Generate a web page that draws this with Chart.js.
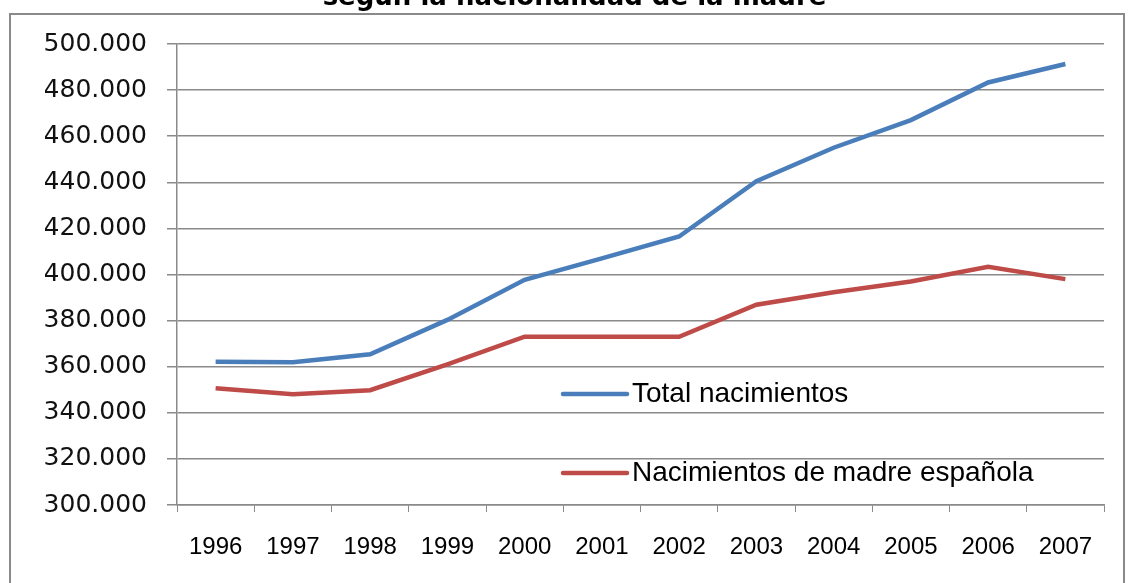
<!DOCTYPE html>
<html>
<head>
<meta charset="utf-8">
<script src="https://cdn.jsdelivr.net/npm/chart.js@4.4.1/dist/chart.umd.min.js"></script>
<style>
  html, body { margin: 0; padding: 0; background: #fff; overflow: hidden; }
  #wrap { position: absolute; left: 0; top: -15px; width: 1129px; height: 598px; }
  #marco { position: absolute; left: 9px; top: 13px; width: 1116px; height: 640px;
           border: 2px solid #8a8a8a; box-sizing: border-box; pointer-events: none; }
</style>
</head>
<body>
<div id="wrap"><canvas id="myChart" width="1129" height="598"></canvas></div>
<div id="marco"></div>
<script>
var titulo = "según la nacionalidad de la madre";
var anios = ["1996", "1997", "1998", "1999", "2000", "2001", "2002", "2003", "2004", "2005", "2006", "2007"];
var totalNacimientos = [362200, 361900, 365400, 380300, 397700, 407000, 416500, 440500, 455000, 467000, 483300, 491300];
var madreEspanola = [350600, 348000, 349800, 361000, 373000, 373000, 373000, 386900, 392300, 397000, 403300, 398000];
var nombres = ["Total nacimientos", "Nacimientos de madre española"];
var colores = ["#4a7ebb", "#be4b48"];

function puntos(v) {
    return v.toString().replace(/\B(?=(\d{3})+(?!\d))/g, ".");
}

// leyenda dentro del area del grafico, como en el original
var leyendaDentro = {
    id: "leyendaDentro",
    afterDatasetsDraw: function(chart) {
        var ctx = chart.ctx;
        var a = chart.chartArea;
        var filas = [a.top + 350, a.top + 429];
        ctx.save();
        chart.data.datasets.forEach(function(ds, i) {
            var y = filas[i];
            ctx.strokeStyle = ds.borderColor;
            ctx.lineWidth = 4.5;
            ctx.lineCap = "round";
            ctx.beginPath();
            ctx.moveTo(a.left + 386, y);
            ctx.lineTo(a.left + 450, y);
            ctx.stroke();
            ctx.fillStyle = "#000";
            ctx.font = "28px 'Liberation Sans', Arial, sans-serif";
            ctx.textBaseline = "middle";
            ctx.textAlign = "left";
            ctx.fillText(ds.label, a.left + 455, y);
        });
        ctx.restore();
    }
};

new Chart("myChart", {
    type: "line",
    data: {
        labels: anios,
        datasets: [{
            label: nombres[0],
            data: totalNacimientos,
            borderColor: colores[0],
            backgroundColor: colores[0],
            borderWidth: 4.5,
            pointRadius: 0,
            tension: 0,
            fill: false
        }, {
            label: nombres[1],
            data: madreEspanola,
            borderColor: colores[1],
            backgroundColor: colores[1],
            borderWidth: 4.5,
            pointRadius: 0,
            tension: 0,
            fill: false
        }]
    },
    options: {
        responsive: false,
        animation: false,
        devicePixelRatio: 1,
        layout: { padding: { left: 45, right: 25, top: 0, bottom: 0 } },
        plugins: {
            legend: { display: false },
            tooltip: { enabled: false },
            title: {
                display: true,
                text: titulo,
                color: "#000",
                font: { family: "'DejaVu Sans', Verdana, sans-serif", size: 26, weight: "bold", lineHeight: 1 },
                padding: { top: 0, bottom: 33 }
            }
        },
        scales: {
            x: {
                offset: true,
                grid: { display: true, drawOnChartArea: false, drawTicks: true, tickLength: 7, offset: true, color: "#8a8a8a" },
                border: { display: true, color: "#8a8a8a", width: 1.5 },
                ticks: {
                    color: "#000",
                    padding: 21,
                    maxRotation: 0,
                    autoSkip: false,
                    font: { family: "'Liberation Sans', Arial, sans-serif", size: 24 }
                },
                afterFit: function(s) { s.height = 78; }
            },
            y: {
                min: 300000,
                max: 500000,
                grid: { color: "#8a8a8a", lineWidth: 1.5, tickLength: 10 },
                border: { display: true, color: "#8a8a8a", width: 1.5 },
                ticks: {
                    stepSize: 20000,
                    color: "#111",
                    padding: 20,
                    font: { family: "'DejaVu Sans', Verdana, sans-serif", size: 25 },
                    callback: function(v) { return puntos(v); }
                },
                afterFit: function(s) { s.width = 132; }
            }
        }
    },
    plugins: [leyendaDentro]
});
</script>
</body>
</html>
